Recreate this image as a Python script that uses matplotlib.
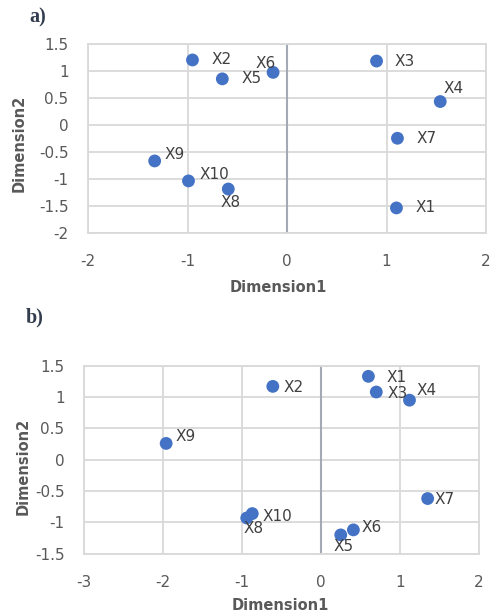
import matplotlib
matplotlib.use("Agg")
import matplotlib.pyplot as plt
from matplotlib.ticker import FuncFormatter

plt.rcParams['axes.unicode_minus'] = False
plt.rcParams['font.family'] = ['DejaVu Sans']

# ---- data ----
labels = ["X1", "X2", "X3", "X4", "X5", "X6", "X7", "X8", "X9", "X10"]
a_dim1 = [1.10, -0.95, 0.90, 1.54, -0.65, -0.14, 1.11, -0.59, -1.33, -0.99]
a_dim2 = [-1.53, 1.21, 1.19, 0.44, 0.86, 0.98, -0.24, -1.18, -0.66, -1.03]
b_dim1 = [0.60, -0.61, 0.70, 1.12, 0.25, 0.41, 1.35, -0.94, -1.96, -0.87]
b_dim2 = [1.33, 1.17, 1.08, 0.95, -1.20, -1.12, -0.62, -0.93, 0.26, -0.86]

a_xticks = [-2, -1, 0, 1, 2]
a_yticks = [-2, -1.5, -1, -0.5, 0, 0.5, 1, 1.5]
b_xticks = [-3, -2, -1, 0, 1, 2]
b_yticks = [-1.5, -1, -0.5, 0, 0.5, 1, 1.5]

# label offsets in pixels (dx, dy up positive), and horizontal alignment
a_off = {"X1": (19, 0, 'left'), "X2": (19, 0, 'left'), "X3": (18, 0, 'left'),
         "X4": (13, 13.5, 'center'), "X5": (19, 0, 'left'), "X6": (-7, 9, 'center'),
         "X7": (19, 0, 'left'), "X8": (2.5, -13.5, 'center'), "X9": (10, 6.5, 'left'),
         "X10": (11, 6.5, 'left')}
b_off = {"X1": (18.5, -1, 'left'), "X2": (11, -1, 'left'), "X3": (11, -1.5, 'left'),
         "X4": (7, 9.5, 'left'), "X5": (2.7, -11.5, 'center'), "X6": (8.5, 2, 'left'),
         "X7": (7.3, -0.5, 'left'), "X8": (6.7, -11, 'center'), "X9": (9, 7, 'left'),
         "X10": (10.3, -3, 'left')}

W, H = 490, 614
fig = plt.figure(figsize=(W / 100, H / 100), dpi=100)
px2pt = 72 / 100

BLUE = '#4472C4'
GRID = '#d9d9d9'
AXIS = '#a3aab5'
TXT = '#595959'
LBL = '#404040'


def panel(rect, xs, ys, xt, yt, offs, ylabel_x, xlabel_y):
    l, t, r, b = rect
    ax = fig.add_axes([l / W, 1 - b / H, (r - l) / W, (b - t) / H])
    ax.set_xlim(xt[0], xt[-1])
    ax.set_ylim(yt[0], yt[-1])
    ax.set_xticks(xt)
    ax.set_yticks(yt)
    fmt = FuncFormatter(lambda v, p: ('%g' % v))
    ax.xaxis.set_major_formatter(fmt)
    ax.yaxis.set_major_formatter(fmt)
    ax.grid(True, color=GRID, lw=1.3, zorder=0)
    for s in ax.spines.values():
        s.set_color(GRID)
        s.set_linewidth(1.3)
    ax.axvline(0, color=AXIS, lw=1.5, zorder=1)
    ax.tick_params(length=0, labelsize=11, colors=TXT, pad=15)
    ax.tick_params(axis='y', pad=14)
    ax.set_axisbelow(True)
    ax.scatter(xs, ys, s=85, color=BLUE, zorder=3, edgecolors='none')
    for name, x, y in zip(labels, xs, ys):
        dx, dy, ha = offs[name]
        ax.annotate(name, (x, y), xytext=(dx * px2pt, dy * px2pt),
                    textcoords='offset points', ha=ha, va='center',
                    fontsize=11, color=LBL, zorder=4)
    fig.text(ylabel_x[0] / W, 1 - ylabel_x[1] / H, 'Dimension2', rotation=90,
             ha='center', va='center', fontsize=10.5, fontweight='bold', color=TXT)
    fig.text(xlabel_y[0] / W, 1 - xlabel_y[1] / H, 'Dimension1',
             ha='center', va='center', fontsize=10.5, fontweight='bold', color=TXT)
    return ax


panel((88, 44.3, 486, 233.3), a_dim1, a_dim2, a_xticks, a_yticks, a_off,
      (19, 143), (278, 288))
panel((84, 365.7, 479, 553.7), b_dim1, b_dim2, b_xticks, b_yticks, b_off,
      (23, 466), (280, 605))

fig.text(29 / W, 1 - 17.5 / H, 'a)', family='Liberation Serif', fontweight='bold',
         fontsize=14.5, ha='left', va='center', color='#333d4d')
fig.text(26 / W, 1 - 317.5 / H, 'b)', family='Liberation Serif', fontweight='bold',
         fontsize=14.5, ha='left', va='center', color='#333d4d')

fig.savefig('out.png', dpi=100, facecolor='white')
